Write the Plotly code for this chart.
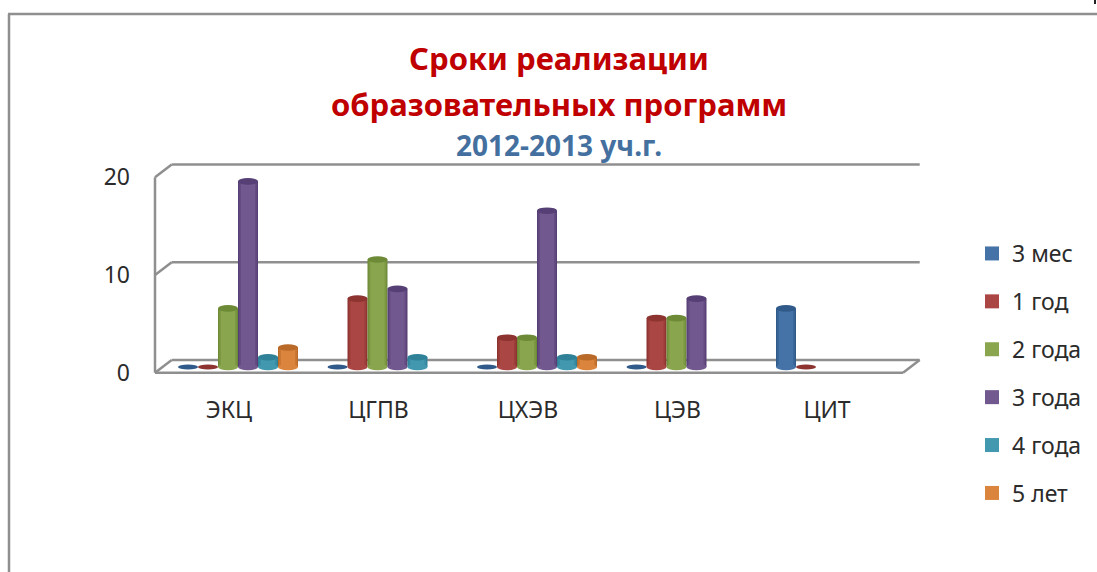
import plotly.graph_objects as go

categories = ["ЭКЦ", "ЦГПВ", "ЦХЭВ", "ЦЭВ", "ЦИТ"]
series_names = ["3 мес", "1 год", "2 года", "3 года", "4 года", "5 лет"]
v_3mes = [0, 0, 0, 0, 6]
v_1god = [0, 7, 3, 5, 0]
v_2goda = [6, 11, 3, 5, None]
v_3goda = [19, 8, 16, 7, None]
v_4goda = [1, 1, 1, None, None]
v_5let = [2, None, 1, None, None]
series_values = [v_3mes, v_1god, v_2goda, v_3goda, v_4goda, v_5let]
tick_vals = [0, 10, 20]

main_colors = ["#4572a7", "#aa4643", "#89a54e", "#71588f", "#4198af", "#db843d"]
dark_colors = ["#2f5a8a", "#8d3330", "#6d8a37", "#563f75", "#2f8198", "#b96a28"]
mid_colors = ["#3b6699", "#9c3d3a", "#7c9843", "#644c83", "#388da4", "#ca7733"]

W, H = 1097, 572
L, R, T, B = 150, 925, 155, 376
CAT_PX = 149.5
X0_PX = 238
UNIT_PX = 9.77
BAR_ZERO_PX = 367
WALL_ZERO_PX = 372.7
DX, DY = 16.7, 12.7
FRONT_L, FRONT_R = 155, 903
FRAME = "#8f8f8f"
FONT = "Noto Sans"
TEXT = "#2b2b2b"


def xd(px):
    return (px - X0_PX) / CAT_PX


def wall(py):
    return (WALL_ZERO_PX - py) / UNIT_PX


def px_paper(px):
    return (px - L) / (R - L)


def py_paper(py):
    return (B - py) / (B - T)


fig = go.Figure()
bar_w = 20 / CAT_PX
layers = [(0, dark_colors), (1.2, mid_colors), (3, main_colors)]
for j, (name, vals) in enumerate(zip(series_names, series_values)):
    for inset, cols in layers:
        ins = inset / CAT_PX
        fig.add_trace(go.Bar(
            x=categories, y=vals, name=name, showlegend=False,
            offset=(j - 3) * bar_w + ins, width=bar_w - 2 * ins,
            marker=dict(color=cols[j], line=dict(width=0)),
            hoverinfo="skip", yaxis="y", xaxis="x",
        ))

for j, name in enumerate(series_names):
    fig.add_trace(go.Scatter(
        x=[None], y=[None], mode="markers", name=name, yaxis="y2",
        marker=dict(symbol="square", size=14, color=main_colors[j]),
        legendgroup=name,
    ))

shapes = []


def line(x0, y0, x1, y1, ref="y2"):
    shapes.append(dict(type="line", xref="x", yref=ref, x0=xd(x0), y0=wall(y0), x1=xd(x1), y1=wall(y1),
                       layer="below", line=dict(color=FRAME, width=2.5)))


for v in tick_vals:
    yf = WALL_ZERO_PX - v * UNIT_PX
    yb = yf - DY
    line(FRONT_L, yf, FRONT_L + DX, yb)
    line(FRONT_L + DX, yb, FRONT_R + DX, yb)
line(FRONT_L, WALL_ZERO_PX, FRONT_R, WALL_ZERO_PX)
line(FRONT_R, WALL_ZERO_PX, FRONT_R + DX, WALL_ZERO_PX - DY)
line(FRONT_L, WALL_ZERO_PX, FRONT_L, WALL_ZERO_PX - 20 * UNIT_PX)

cap_half = 3.3 / UNIT_PX
for j, vals in enumerate(series_values):
    for i, v in enumerate(vals):
        if v is None:
            continue
        xa = i + (j - 3) * bar_w
        xb = xa + bar_w
        half = cap_half if v else 2.5 / UNIT_PX
        if v:
            shapes.append(dict(type="circle", xref="x", yref="y", x0=xa, x1=xb, y0=-half, y1=half,
                               fillcolor=main_colors[j], line=dict(width=0), layer="above"))
        shapes.append(dict(type="circle", xref="x", yref="y", x0=xa, x1=xb, y0=v - half, y1=v + half,
                           fillcolor=dark_colors[j], line=dict(width=0), layer="above"))

# outer chart frame and the stray corner mark
for x0, y0, x1, y1 in [(8, 14, 1097, 14), (9, 14, 9, 572), (1095, 0, 1095, 4)]:
    shapes.append(dict(type="line", xref="paper", yref="paper",
                       x0=px_paper(x0), x1=px_paper(x1), y0=py_paper(y0), y1=py_paper(y1),
                       line=dict(color=FRAME if y0 else "#222222", width=2.5 if y0 else 2)))

annotations = [
    dict(text="образовательных программ", x=px_paper(559), y=py_paper(104), xref="paper", yref="paper",
         showarrow=False, xanchor="center", yanchor="middle",
         font=dict(family=FONT, size=31, color="#c00000", weight="bold")),
    dict(text="2012-2013 уч.г.", x=px_paper(559), y=py_paper(145), xref="paper", yref="paper",
         showarrow=False, xanchor="center", yanchor="middle",
         font=dict(family=FONT, size=28, color="#44709f", weight="bold")),
]

fig.update_layout(
    width=W, height=H, autosize=False,
    margin=dict(l=L, r=W - R, t=T, b=H - B, pad=0, autoexpand=False),
    paper_bgcolor="white", plot_bgcolor="rgba(0,0,0,0)",
    barmode="overlay",
    title=dict(text="Сроки реализации", x=559 / W, xanchor="center", y=1 - 59 / H, yanchor="middle",
               xref="container", yref="container",
               font=dict(family=FONT, size=31, color="#c00000", weight="bold")),
    font=dict(family=FONT, size=23, color=TEXT),
    xaxis=dict(type="category", categoryorder="array", categoryarray=categories,
               range=[xd(L), xd(R)], showgrid=False, zeroline=False, showline=False,
               ticks="", ticklabelshift=-9, ticklabelstandoff=18,
               tickfont=dict(family=FONT, size=23, color=TEXT)),
    yaxis=dict(range=[(BAR_ZERO_PX - B) / UNIT_PX, (BAR_ZERO_PX - T) / UNIT_PX], visible=False),
    yaxis2=dict(overlaying="y", side="left", anchor="x",
                range=[(WALL_ZERO_PX - B) / UNIT_PX, (WALL_ZERO_PX - T) / UNIT_PX],
                tickvals=tick_vals, showgrid=False, zeroline=False, showline=False,
                ticks="", ticklabelstandoff=19,
                tickfont=dict(family=FONT, size=23, color=TEXT)),
    legend=dict(x=px_paper(972), y=py_paper(232), xanchor="left", yanchor="top",
                xref="paper", yref="paper", tracegroupgap=15, bgcolor="rgba(0,0,0,0)",
                font=dict(family=FONT, size=23, color=TEXT), itemwidth=30, maxheight=330),
    shapes=shapes, annotations=annotations, showlegend=True,
)

fig.write_html("out.html", config=dict(displayModeBar=False),
               post_script="document.body.style.margin='0';document.body.style.overflow='hidden';")
